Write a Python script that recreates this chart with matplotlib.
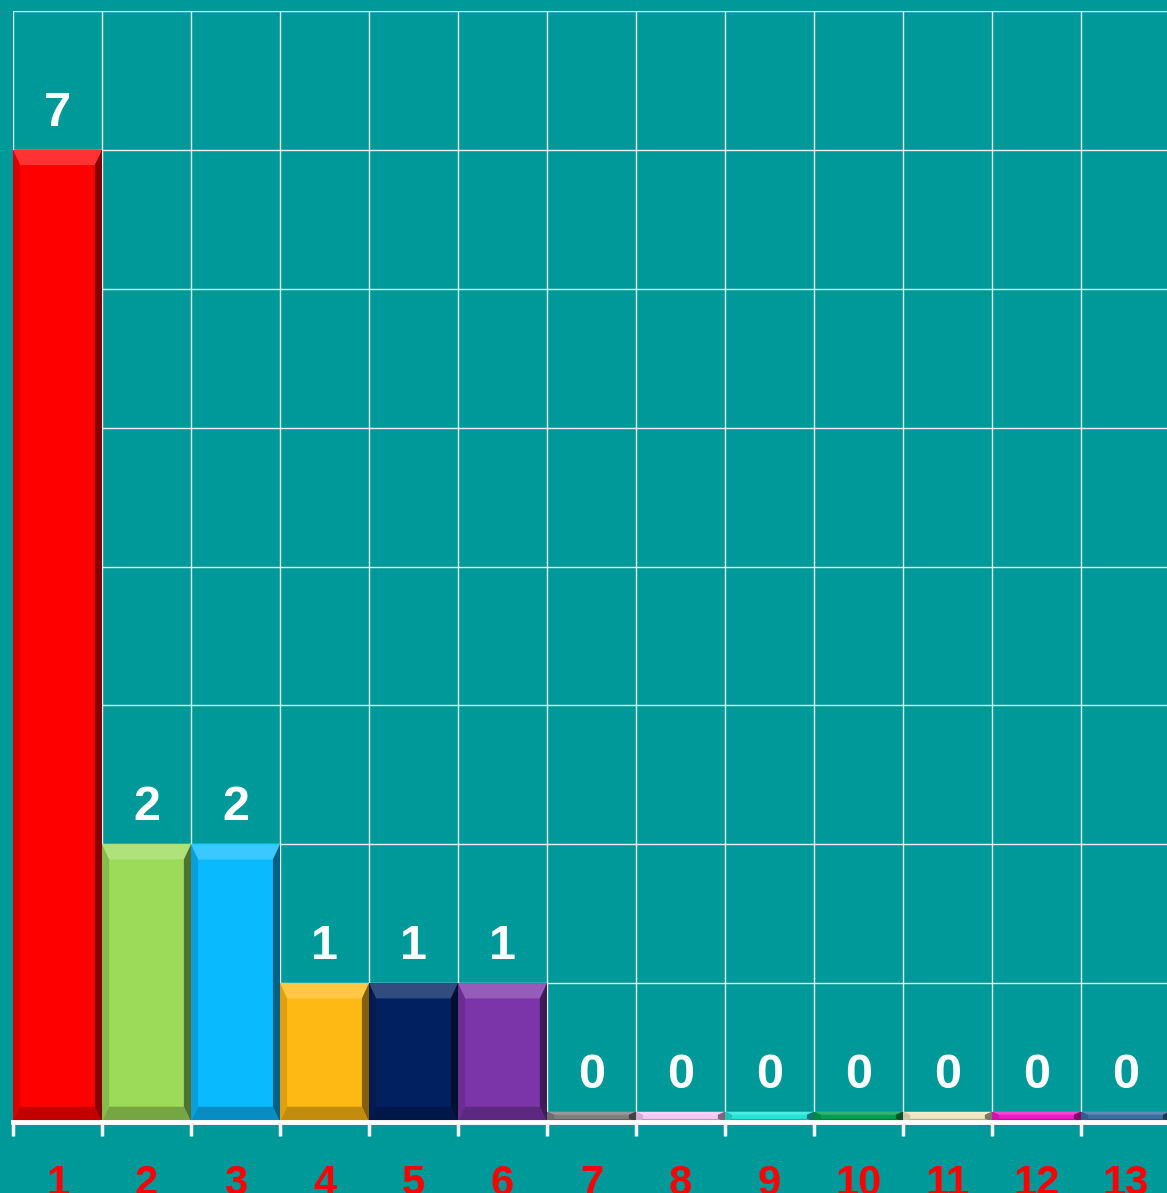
import matplotlib
matplotlib.use("Agg")
import matplotlib.pyplot as plt
from matplotlib.patches import Polygon
import matplotlib.colors as mcolors

# data
categories = ['1', '2', '3', '4', '5', '6', '7', '8', '9', '10', '11', '12', '13']
values = [7, 2, 2, 1, 1, 1, 0, 0, 0, 0, 0, 0, 0]
colors = ['#FF0000', '#9BDB59', '#0ABAFF', '#FFB914', '#002060', '#7B35A8', '#7F7F7F',
          '#F4C8F4', '#23E6D8', '#00A050', '#F0E6C0', '#F018C8', '#3A6EA0']

bg = '#009999'
plt.rcParams['font.family'] = ['Liberation Sans', 'DejaVu Sans']

fig = plt.figure(figsize=(11.67, 11.93), dpi=100)
fig.patch.set_facecolor(bg)
W, H = 1167, 1193
ax = fig.add_axes([13 / W, (H - 1122) / H, 1157 / W, (1122 - 11) / H])
ax.set_facecolor(bg)

x = list(range(len(categories)))
ymin_h = 0.075  # zero bars still drawn as thin slabs
heights = [max(v, ymin_h) for v in values]
bars = ax.bar(x, heights, width=1.0, color=colors, edgecolor='none', zorder=3)

# simple bevel shading on each bar
bev_x = 0.08
bev_y = 0.11
for b, c in zip(bars, colors):
    x0, y0 = b.get_x(), b.get_y()
    w, h = b.get_width(), b.get_height()
    by = min(bev_y, h * 0.3)
    bx = min(bev_x, w * 0.3)
    base = mcolors.to_rgb(c)
    light = tuple(min(1, v * 0.6 + 0.4) for v in base)
    dark = tuple(v * 0.4 for v in base)
    mid = tuple(v * 0.7 for v in base)
    # top
    ax.add_patch(Polygon([(x0, y0 + h), (x0 + w, y0 + h), (x0 + w - bx, y0 + h - by), (x0 + bx, y0 + h - by)],
                         closed=True, fc=light, ec='none', alpha=0.5, zorder=4))
    # right
    ax.add_patch(Polygon([(x0 + w, y0), (x0 + w, y0 + h), (x0 + w - bx, y0 + h - by), (x0 + w - bx, y0 + by)],
                         closed=True, fc=dark, ec='none', alpha=0.8, zorder=4))
    # bottom
    ax.add_patch(Polygon([(x0, y0), (x0 + w, y0), (x0 + w - bx, y0 + by), (x0 + bx, y0 + by)],
                         closed=True, fc=mid, ec='none', alpha=0.8, zorder=4))
    # left
    ax.add_patch(Polygon([(x0, y0), (x0, y0 + h), (x0 + bx, y0 + h - by), (x0 + bx, y0 + by)],
                         closed=True, fc=mid, ec='none', alpha=0.45, zorder=4))

for xi, v, hh in zip(x, values, heights):
    ax.text(xi, hh + 0.1, str(v), ha='center', va='bottom', color='white',
            fontsize=35, fontweight='bold', zorder=5)

ax.set_xlim(-0.5, len(categories) - 0.5)
ax.set_ylim(0, 8)
ax.set_xticks([i - 0.5 for i in x] + [len(categories) - 0.5])
ax.set_xticklabels([])
ax.set_xticks(x, minor=True)
ax.set_xticklabels(categories, minor=True)
ax.set_yticks(range(0, 9))
ax.set_yticklabels([])
ax.tick_params(axis='x', which='major', direction='out', length=10, width=2.5, color='white')
ax.tick_params(axis='x', which='minor', length=0, pad=30, labelsize=30, labelcolor='#FF0000')
for lab in ax.get_xticklabels(minor=True):
    lab.set_fontweight('bold')
ax.tick_params(axis='y', length=0)
ax.grid(True, which='major', color='#E8F4F4', linewidth=1.0, zorder=1)

for s in ['top', 'right', 'left']:
    ax.spines[s].set_visible(False)
ax.spines['bottom'].set_color('white')
ax.spines['bottom'].set_linewidth(3.5)
ax.spines['bottom'].set_zorder(6)

fig.savefig('out.png', dpi=100, facecolor=bg)
